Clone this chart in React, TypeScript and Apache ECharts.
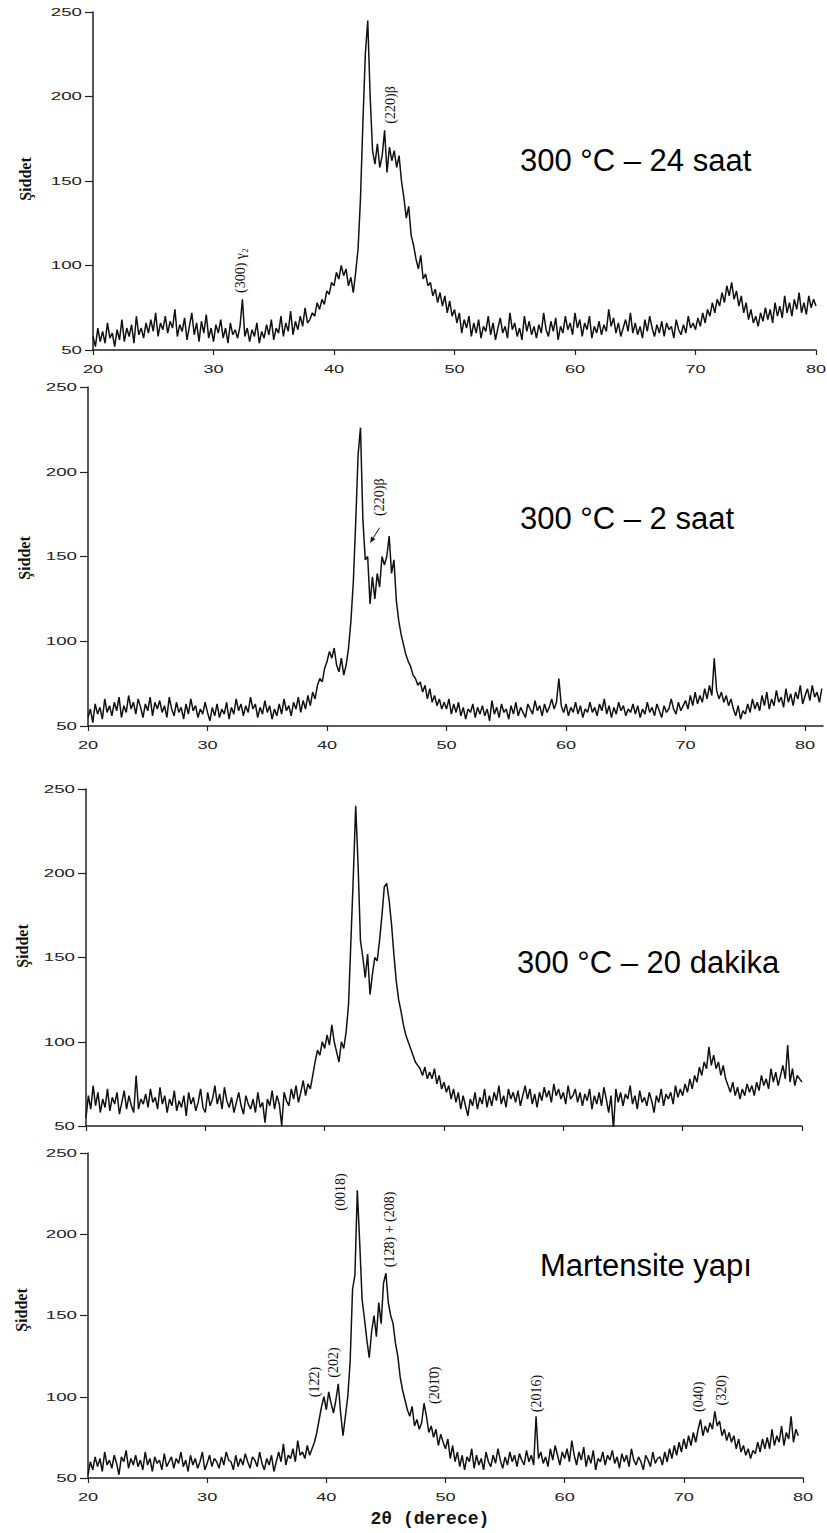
import React, { useEffect, useRef } from "react";
import * as echarts from "echarts";

// 2θ grid of every scan (degrees)
const X_START = 20;
const X_STEP = 0.2;
const X_TICKS = [20, 30, 40, 50, 60, 70, 80];
const Y_TICKS = [50, 100, 150, 200, 250];

// 300 °C – 24 saat
const P24 = [
  58, 52, 63, 55, 61, 54, 66, 57, 60, 52, 62, 56, 68, 55, 63, 58, 65, 54, 70, 59,
  63, 57, 66, 60, 68, 61, 72, 58, 66, 62, 70, 60, 67, 63, 74, 58, 65, 61, 69, 56,
  64, 72, 59, 66, 55, 67, 60, 71, 57, 63, 55, 65, 60, 68, 57, 63, 54, 66, 59, 62,
  57, 64, 80, 58, 63, 55, 62, 58, 66, 54, 61, 57, 65, 59, 68, 56, 63, 60, 70, 58,
  66, 61, 73, 59, 67, 62, 70, 64, 75, 66, 68, 72, 70, 78, 74, 80, 77, 85, 83, 90,
  88, 96, 92, 100, 94, 98, 88, 93, 84, 96, 110, 140, 185, 225, 245, 200, 168, 160, 172, 158,
  165, 180, 155, 170, 162, 168, 158, 165, 150, 140, 128, 135, 118, 112, 104, 98, 106, 92, 95, 88,
  90, 82, 86, 78, 84, 76, 82, 72, 79, 70, 74, 66, 72, 60, 68, 63, 70, 58, 66, 60,
  68, 57, 64, 61, 70, 59, 66, 56, 63, 69, 60, 64, 57, 72, 62, 66, 58, 63, 56, 70,
  61, 67, 59, 64, 57, 65, 60, 72, 62, 58, 67, 61, 69, 56, 64, 60, 70, 62, 66, 59,
  72, 63, 68, 58, 66, 62, 70, 57, 64, 60, 67, 59, 65, 61, 74, 64, 69, 60, 66, 58,
  63, 68, 61, 72, 60, 66, 59, 64, 57, 68, 61, 70, 63, 58, 65, 60, 67, 58, 66, 62,
  64, 57, 68, 62, 59, 65, 60, 70, 63, 66, 62, 69, 64, 72, 66, 74, 70, 78, 72, 80,
  76, 84, 78, 88, 82, 90, 80, 85, 76, 82, 72, 78, 68, 74, 66, 70, 64, 72, 67, 75,
  68, 74, 66, 78, 70, 76, 69, 82, 72, 78, 70, 80, 74, 84, 72, 78, 71, 82, 75, 80,
  76,
];

// 300 °C – 2 saat (scan runs to 81.4°)
const P2 = [
  55, 60, 52, 63, 57, 61, 54, 66, 58, 62, 56, 64, 59, 67, 55, 62, 58, 68, 60, 64,
  57, 66, 61, 55, 63, 59, 67, 56, 64, 60, 65, 58, 62, 55, 67, 60, 56, 64, 58, 61,
  54, 63, 57, 66, 59, 62, 55, 60, 57, 64, 58, 53, 61, 56, 63, 55, 60, 57, 64, 54,
  61, 57, 66, 59, 63, 56, 62, 58, 67, 60, 63, 55, 61, 57, 65, 58, 62, 54, 60, 56,
  63, 57, 66, 59, 62, 56, 64, 60, 67, 58, 65, 60, 68, 62, 70, 66, 74, 78, 76, 84,
  88, 94, 90, 96, 86, 82, 90, 80, 86, 96, 112, 135, 170, 210, 226, 172, 148, 150, 122, 138,
  125, 140, 132, 150, 145, 150, 162, 140, 148, 124, 112, 104, 98, 92, 88, 85, 80, 78, 74, 76,
  70, 74, 66, 72, 64, 68, 62, 66, 60, 64, 60, 66, 57, 63, 58, 64, 56, 61, 54, 60,
  58, 63, 55, 61, 57, 62, 56, 60, 53, 65, 57, 61, 55, 63, 58, 60, 54, 62, 57, 64,
  56, 61, 58, 55, 63, 60, 57, 65, 59, 62, 56, 63, 58, 61, 66, 60, 64, 78, 62, 58,
  63, 56, 61, 58, 64, 57, 62, 55, 60, 58, 64, 58, 61, 56, 63, 59, 66, 57, 62, 55,
  61, 57, 64, 59, 62, 56, 60, 58, 63, 57, 62, 55, 60, 57, 64, 58, 61, 56, 63, 59,
  55, 62, 58, 60, 66, 60, 57, 64, 59, 62, 65, 60, 68, 62, 70, 63, 68, 64, 72, 66,
  74, 68, 90, 71, 66, 70, 64, 68, 62, 66, 60, 56, 62, 54, 59, 57, 63, 58, 66, 60,
  64, 59, 68, 62, 70, 60, 66, 62, 71, 64, 67, 61, 72, 64, 69, 62, 70, 66, 74, 63,
  68, 72, 65, 74, 67, 70, 64, 72,
];

// 300 °C – 20 dakika
const P20 = [
  55, 68, 60, 74, 62, 70, 58, 66, 61, 72, 59, 67, 63, 70, 57, 64, 71, 60, 68, 62,
  58, 80, 60, 66, 63, 69, 61, 72, 64, 67, 60, 73, 63, 68, 58, 66, 62, 71, 59, 65,
  61, 68, 56, 70, 63, 67, 59, 64, 72, 61, 58, 70, 62, 66, 74, 63, 69, 60, 73, 65,
  61, 67, 58, 64, 70, 62, 57, 68, 63, 60, 66, 58, 70, 61, 64, 52, 66, 62, 71, 60,
  68, 63, 50, 70, 65, 62, 72, 66, 74, 64, 70, 77, 68, 75, 72, 80, 88, 95, 92, 100,
  96, 104, 98, 110, 100, 94, 88, 100, 96, 106, 122, 160, 198, 240, 205, 160, 150, 138, 152, 128,
  140, 150, 148, 160, 175, 192, 194, 184, 170, 152, 136, 125, 118, 110, 104, 100, 96, 92, 88, 86,
  84, 80, 85, 78, 82, 78, 84, 75, 80, 72, 76, 70, 74, 66, 72, 64, 70, 60, 68, 62,
  56, 66, 62, 70, 60, 67, 63, 72, 61, 68, 62, 70, 65, 74, 63, 68, 61, 72, 66, 70,
  64, 71, 62, 68, 74, 66, 72, 63, 69, 61, 70, 65, 73, 67, 71, 64, 75, 68, 72, 66,
  70, 63, 74, 66, 68, 72, 64, 70, 62, 69, 65, 72, 60, 68, 63, 70, 62, 73, 66, 58,
  68, 48, 72, 64, 70, 62, 69, 66, 74, 63, 68, 60, 71, 64, 67, 62, 70, 65, 58, 68,
  64, 72, 62, 69, 66, 70, 63, 74, 67, 72, 68, 75, 70, 78, 72, 80, 76, 85, 80, 88,
  84, 97, 86, 92, 84, 88, 80, 86, 78, 74, 70, 76, 68, 73, 66, 72, 68, 75, 70, 74,
  68, 76, 71, 80, 74, 78, 72, 84, 76, 82, 74, 80, 86, 78, 98, 76, 84, 74, 80, 78,
  76,
];

// Martensite yapı (scan ends at 79.6°)
const PM = [
  52, 60, 55, 63, 57, 62, 54, 66, 58, 61, 56, 64, 59, 52, 63, 60, 67, 56, 62, 58,
  64, 57, 61, 55, 66, 58, 62, 54, 63, 59, 61, 55, 65, 57, 60, 63, 56, 62, 59, 66,
  57, 61, 54, 64, 58, 62, 56, 60, 66, 55, 59, 64, 57, 62, 60, 56, 63, 58, 66, 61,
  60, 55, 64, 57, 62, 58, 65, 60, 56, 63, 61, 57, 66, 59, 55, 62, 58, 64, 54, 60,
  66, 60, 71, 58, 64, 62, 68, 60, 73, 64, 66, 62, 70, 64, 68, 72, 78, 86, 94, 100,
  92, 103, 96, 90, 98, 108, 90, 76, 88, 100, 122, 166, 175, 227, 195, 160, 148, 135, 124, 140,
  150, 137, 158, 145, 170, 176, 158, 150, 145, 133, 125, 112, 104, 98, 92, 88, 94, 82, 86, 80,
  84, 96, 88, 78, 82, 75, 80, 70, 77, 72, 68, 74, 62, 70, 60, 66, 57, 64, 55, 63,
  60, 68, 56, 64, 58, 62, 55, 66, 60, 57, 64, 59, 68, 61, 56, 63, 58, 66, 60, 64,
  57, 65, 61, 58, 67, 60, 64, 58, 88, 62, 66, 59, 63, 57, 68, 61, 70, 64, 58, 66,
  62, 68, 60, 73, 64, 58, 66, 61, 69, 57, 64, 59, 67, 55, 62, 60, 66, 58, 64, 61,
  67, 59, 63, 56, 65, 60, 64, 57, 68, 61, 58, 63, 60, 55, 64, 61, 57, 66, 59, 62,
  63, 58, 66, 60, 68, 62, 70, 64, 72, 66, 74, 68, 76, 70, 78, 72, 80, 86, 76, 82,
  78, 84, 80, 91, 82, 85, 76, 80, 73, 78, 72, 76, 68, 74, 66, 70, 64, 68, 62, 67,
  65, 72, 66, 74, 68, 75, 68, 80, 70, 76, 72, 82, 70, 78, 74, 88, 72, 80, 76,
];

const PANEL_DATA = [P24, P2, P20, PM];
const PANEL_X_MAX = [80, 81.5, 80, 80];
const PANEL_TITLES = ["300 °C – 24 saat", "300 °C – 2 saat", "300 °C – 20 dakika", "Martensite yapı"];
const PANEL_SHOW_X_LABELS = [true, true, false, true];
const Y_NAME = "Şiddet";
const X_NAME = "2θ (derece)";

const ANNOTATIONS = [
  { panel: 0, text: "(300) γ₂", x: 32.2, y: 97 },
  { panel: 0, text: "(220)β", x: 44.65, y: 195 },
  { panel: 1, text: "(220)β", x: 44.4, y: 185 },
  { panel: 3, text: "(12\u03042)", x: 39.0, y: 109 },
  { panel: 3, text: "(202)", x: 40.6, y: 121 },
  { panel: 3, text: "(0018)", x: 41.2, y: 226 },
  { panel: 3, text: "(12\u03048) + (208)", x: 45.3, y: 203 },
  { panel: 3, text: "(201\u03040\u0304)", x: 49.1, y: 107 },
  { panel: 3, text: "(2016)", x: 57.6, y: 102 },
  { panel: 3, text: "(040)", x: 71.2, y: 100 },
  { panel: 3, text: "(320)", x: 73.2, y: 104 },
];
const ARROW = { panel: 1, from: [44.4, 167], to: [43.6, 158] };

// layout (pixels)
const GRIDS = [
  { left: 93, top: 12, width: 723, height: 338 },
  { left: 88, top: 387, width: 735, height: 339 },
  { left: 86, top: 789, width: 716, height: 337 },
  { left: 88, top: 1153, width: 715, height: 325 },
];
const TITLE_POS = [
  [520, 160],
  [520, 518],
  [517, 962],
  [540, 1265],
];
const YNAME_POS = [
  [25, 179],
  [24, 558],
  [22, 946],
  [21, 1310],
];

const INK = "#111";
const LABEL_FONT = '11px "Liberation Sans", Arial, sans-serif';

export default function App() {
  const ref = useRef<HTMLDivElement>(null);

  useEffect(() => {
    if (!ref.current) return;
    const chart = echarts.init(ref.current, undefined, { renderer: "svg" });

    const grid = GRIDS.map((g) => ({ ...g }));
    const xAxis = GRIDS.map((_, i) => ({
      type: "value",
      gridIndex: i,
      min: 20,
      max: PANEL_X_MAX[i],
      interval: 10,
      axisLine: { show: true, onZero: false, lineStyle: { color: "#222", width: 1.5 } },
      axisTick: { show: true, length: 5, customValues: X_TICKS, lineStyle: { color: "#222", width: 1.2 } },
      axisLabel: { show: false },
      splitLine: { show: false },
    }));
    const yAxis = GRIDS.map((_, i) => ({
      type: "value",
      gridIndex: i,
      min: 50,
      max: 250,
      interval: 50,
      axisLine: { show: true, onZero: false, lineStyle: { color: "#222", width: 1.5 } },
      axisTick: { show: true, length: 8, lineStyle: { color: "#222", width: 1.2 } },
      axisLabel: { show: false },
      splitLine: { show: false },
    }));
    const series = PANEL_DATA.map((vals, i) => ({
      type: "line",
      xAxisIndex: i,
      yAxisIndex: i,
      showSymbol: false,
      symbol: "none",
      clip: true,
      data: vals.map((v, k) => [+(X_START + k * X_STEP).toFixed(2), v]),
      lineStyle: { color: INK, width: 1.5 },
      silent: true,
    }));

    chart.setOption({
      animation: false,
      backgroundColor: "#fff",
      grid,
      xAxis,
      yAxis,
      series,
    });

    const graphics: any[] = [];
    GRIDS.forEach((_, i) => {
      Y_TICKS.forEach((v) => {
        const p = chart.convertToPixel({ gridIndex: i }, [20, v]) as number[];
        graphics.push({
          type: "text",
          x: p[0] - 11,
          y: p[1],
          scaleX: 1.7,
          silent: true,
          style: { text: String(v), font: LABEL_FONT, fill: "#222", textAlign: "right", textVerticalAlign: "middle" },
        });
      });
      if (PANEL_SHOW_X_LABELS[i]) {
        X_TICKS.forEach((v) => {
          const p = chart.convertToPixel({ gridIndex: i }, [v, 50]) as number[];
          graphics.push({
            type: "text",
            x: p[0],
            y: p[1] + 19,
            scaleX: 1.65,
            silent: true,
            style: { text: String(v), font: LABEL_FONT, fill: "#222", textAlign: "center", textVerticalAlign: "middle" },
          });
        });
      }
      graphics.push({
        type: "text",
        x: YNAME_POS[i][0],
        y: YNAME_POS[i][1],
        rotation: Math.PI / 2,
        silent: true,
        style: {
          text: Y_NAME,
          font: 'bold 16px "Liberation Serif", "DejaVu Serif", serif',
          fill: INK,
          textAlign: "center",
          textVerticalAlign: "middle",
        },
      });
      graphics.push({
        type: "text",
        x: TITLE_POS[i][0],
        y: TITLE_POS[i][1],
        silent: true,
        style: {
          text: PANEL_TITLES[i],
          font: '31px "Liberation Sans", Arial, sans-serif',
          fill: "#000",
          textAlign: "left",
          textVerticalAlign: "middle",
        },
      });
    });

    ANNOTATIONS.forEach((a) => {
      const p = chart.convertToPixel({ gridIndex: a.panel }, [a.x, a.y]) as number[];
      graphics.push({
        type: "text",
        x: p[0],
        y: p[1],
        rotation: Math.PI / 2,
        silent: true,
        style: {
          text: a.text,
          font: '14px "Liberation Serif", "DejaVu Serif", serif',
          fill: INK,
          textAlign: "center",
          textVerticalAlign: "middle",
        },
      });
    });

    {
      const a = chart.convertToPixel({ gridIndex: ARROW.panel }, ARROW.from) as number[];
      const b = chart.convertToPixel({ gridIndex: ARROW.panel }, ARROW.to) as number[];
      const dx = b[0] - a[0];
      const dy = b[1] - a[1];
      const len = Math.sqrt(dx * dx + dy * dy) || 1;
      const ux = dx / len;
      const uy = dy / len;
      const hl = 6;
      const hw = 2.5;
      const bx = b[0] - ux * hl;
      const by = b[1] - uy * hl;
      graphics.push({
        type: "line",
        silent: true,
        shape: { x1: a[0], y1: a[1], x2: bx, y2: by },
        style: { stroke: INK, lineWidth: 1 },
      });
      graphics.push({
        type: "polygon",
        silent: true,
        shape: {
          points: [
            [b[0], b[1]],
            [bx - uy * hw, by + ux * hw],
            [bx + uy * hw, by - ux * hw],
          ],
        },
        style: { fill: INK },
      });
    }

    {
      const p0 = chart.convertToPixel({ gridIndex: 3 }, [40, 50]) as number[];
      const p1 = chart.convertToPixel({ gridIndex: 3 }, [50, 50]) as number[];
      graphics.push({
        type: "text",
        x: (p0[0] + p1[0]) / 2 + 44,
        y: p0[1] + 41,
        silent: true,
        style: {
          text: X_NAME,
          font: 'bold 18px "Liberation Mono", "DejaVu Sans Mono", monospace',
          fill: INK,
          textAlign: "center",
          textVerticalAlign: "middle",
        },
      });
    }

    chart.setOption({ graphic: graphics });

    return () => {
      chart.dispose();
    };
  }, []);

  return (
    <div
      ref={ref}
      style={{ position: "absolute", left: 0, top: 0, width: 827, height: 1533, background: "#fff" }}
    />
  );
}
